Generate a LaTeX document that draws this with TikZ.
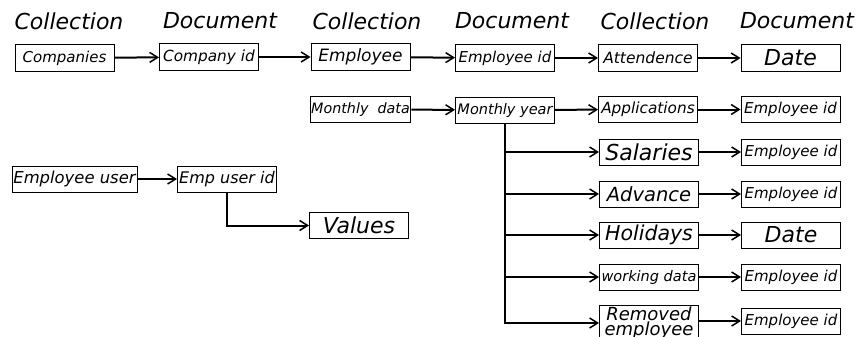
\documentclass[tikz,border=0pt]{standalone}
\usepackage{fontspec}
\setmainfont{DejaVu Sans}
\usetikzlibrary{arrows.meta}
\tikzset{
  box/.style={draw,line width=1pt,minimum width=99pt,minimum height=26pt,inner sep=1pt},
  sz/.style={font=\itshape\fontsize{#1}{#1}\selectfont},
  head/.style={inner sep=0pt,sz=22},
  link/.style={line width=2pt,-{Straight Barb[length=8pt,width=10pt,line width=1.5pt]}}
}
\begin{document}
\begin{tikzpicture}[x=1pt,y=-1pt]
  \useasboundingbox (0,0) rectangle (864,337);
  % Headers
  \node[head]   (H1)   at (69,21)  {Collection};
  \node[head]   (H2)   at (220,21) {Document};
  \node[head]   (H3)   at (367,21) {Collection};
  \node[head]   (H4)   at (512,21) {Document};
  \node[head]   (H5)   at (655,21) {Collection};
  \node[head]   (H6)   at (797,21) {Document};
  % Top row
  \node[box,sz=15]    (Comp)    at (64.5,58) {Companies};
  \node[box,sz=15.3]  (CompId)  at (209,57)  {Company id};
  \node[box,sz=17]    (Emp)     at (360.5,57) {Employee};
  \node[box,sz=15]    (EmpId)   at (505,58)  {Employee id};
  \node[box,sz=15.5]  (Att)     at (648,58)  {Attendence};
  \node[box,sz=22]    (Date)    at (790.5,58) {Date};
  \draw[link] (Comp) -- (CompId);
  \draw[link] (CompId) -- (Emp);
  \draw[link] (Emp) -- (EmpId);
  \draw[link] (EmpId) -- (Att);
  \draw[link] (Att) -- (Date);
  % Monthly part
  \node[box,sz=14.3]  (Mon)     at (360.5,109.5) {Monthly\ \ data};
  \node[box,sz=14.5]  (MonY)    at (505,110) {Monthly year};
  \node[box,sz=15.3]  (App)     at (648,109.5) {Applications};
  \node[box,sz=15]    (AppId)   at (790.5,109.5) {Employee id};
  \node[box,sz=22]    (Sal)     at (649,152) {Salaries};
  \node[box,sz=15]    (SalId)   at (791,152) {Employee id};
  \node[box,sz=19.5]  (Adv)     at (649,194) {Advance};
  \node[box,sz=15]    (AdvId)   at (791,194) {Employee id};
  \node[box,sz=20.5]  (Hol)     at (649,235) {Holidays};
  \node[box,sz=22]    (HolDate) at (791,235) {Date};
  \node[box,sz=14.5]  (Work)    at (649,277) {working data};
  \node[box,sz=15]    (WorkId)  at (791,277) {Employee id};
  \node[box,font=\itshape\fontsize{18}{15}\selectfont,align=center,minimum height=34pt] (Rem) at (649,323) {Removed\\employee};
  \node[box,sz=15]    (RemId)   at (791,321) {Employee id};
  \draw[link] (Mon) -- (MonY);
  \draw[link] (MonY) -- (App);
  \draw[link] (App) -- (AppId);
  \draw[link] (MonY.south) |- (Sal.west);
  \draw[link] (MonY.south) |- (Adv.west);
  \draw[link] (MonY.south) |- (Hol.west);
  \draw[link] (MonY.south) |- (Work.west);
  \draw[link] (MonY.south) |- (Rem.west);
  \draw[link] (Sal) -- (SalId);
  \draw[link] (Adv) -- (AdvId);
  \draw[link] (Hol) -- (HolDate);
  \draw[link] (Work) -- (WorkId);
  \draw[link] (Rem.east |- RemId.west) -- (RemId.west);
  % Employee user part
  \node[box,sz=16.4,minimum width=125pt] (EU) at (74.5,179) {Employee user};
  \node[box,sz=16]    (EUId)    at (227,179) {Emp user id};
  \node[box,sz=22]    (Val)     at (359,225.5) {Values};
  \draw[link] (EU) -- (EUId);
  \draw[link] (EUId.south) |- (Val.west);
\end{tikzpicture}
\end{document}
